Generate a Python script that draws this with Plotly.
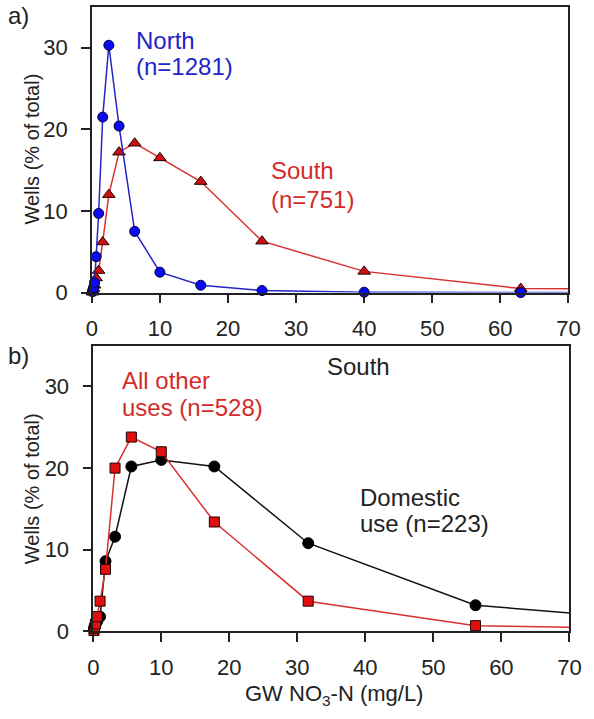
import plotly.graph_objects as go

# Panel a: NO3-N bins (mg/L) and % of wells
a_x = [0.1, 0.16, 0.25, 0.4, 0.63, 1.0, 1.6, 2.5, 4.0, 6.3, 10, 16, 25, 40, 63, 100]
north_pct = [0.1, 0.3, 0.6, 1.2, 4.4, 9.7, 21.5, 30.3, 20.4, 7.5, 2.5, 0.9, 0.25, 0.05, 0.0, 0.0]
south_pct = [0.05, 0.2, 0.5, 0.9, 1.8, 2.7, 6.2, 12.0, 17.2, 18.3, 16.5, 13.6, 6.3, 2.6, 0.5, 0.3]

# Panel b: South, by well use
b_x = [0.1, 0.18, 0.32, 0.56, 1.0, 1.8, 3.2, 5.6, 10, 17.8, 31.6, 56.2, 100]
domestic_pct = [0.2, 0.5, 0.8, 1.2, 1.8, 8.6, 11.6, 20.2, 21.0, 20.2, 10.8, 3.2, 0.2]
other_pct = [0.1, 0.4, 0.9, 1.8, 3.7, 7.6, 20.0, 23.8, 22.0, 13.4, 3.7, 0.7, 0.12]

x_ticks = [0, 10, 20, 30, 40, 50, 60, 70]
y_ticks = [0, 10, 20, 30]

W, H = 594, 719
FONT = "Liberation Sans, Arial, sans-serif"
BLUE_TXT = "#2323cc"
RED_TXT = "#d42b2b"


def sizes(xs, s):
    return [s if x <= 70 else 0 for x in xs]


fig = go.Figure()

fig.add_trace(go.Scatter(
    x=a_x, y=south_pct, mode="lines+markers", xaxis="x", yaxis="y",
    line=dict(color="#d93030", width=1.5),
    marker=dict(symbol="triangle-up", size=sizes(a_x, 11), color="#cc1010", opacity=1,
                line=dict(color="#200000", width=1)),
    cliponaxis=False, showlegend=False))
fig.add_trace(go.Scatter(
    x=a_x, y=north_pct, mode="lines+markers", xaxis="x", yaxis="y",
    line=dict(color="#2424c8", width=1.5),
    marker=dict(symbol="circle", size=sizes(a_x, 10), color="#0a0af5", opacity=1,
                line=dict(color="#000030", width=1)),
    cliponaxis=False, showlegend=False))

fig.add_trace(go.Scatter(
    x=b_x, y=domestic_pct, mode="lines+markers", xaxis="x2", yaxis="y2",
    line=dict(color="#111111", width=1.5),
    marker=dict(symbol="circle", size=sizes(b_x, 11), color="#000000", opacity=1,
                line=dict(color="#000000", width=1)),
    cliponaxis=False, showlegend=False))
fig.add_trace(go.Scatter(
    x=b_x, y=other_pct, mode="lines+markers", xaxis="x2", yaxis="y2",
    line=dict(color="#d93030", width=1.5),
    marker=dict(symbol="square", size=sizes(b_x, 10), color="#e01010", opacity=1,
                line=dict(color="#200000", width=1)),
    cliponaxis=False, showlegend=False))

tickfont = dict(family=FONT, size=22, color="#222222")
ax_common = dict(showline=True, linecolor="#222222", linewidth=1.5, mirror=True,
                 ticks="outside", ticklen=9, tickwidth=1.5, tickcolor="#222222",
                 showgrid=False, zeroline=False, tickfont=tickfont)

fig.update_layout(
    width=W, height=H, margin=dict(l=0, r=0, t=0, b=0),
    paper_bgcolor="white", plot_bgcolor="white",
    xaxis=dict(domain=[88.5 / W, 580 / W], range=[0, 70], tickvals=x_ticks,
               anchor="y", ticklabelstandoff=6, **ax_common),
    yaxis=dict(domain=[1 - 298 / H, 1 - 7 / H], range=[0, 35], tickvals=y_ticks,
               anchor="x", ticklabelstandoff=9, **ax_common),
    xaxis2=dict(domain=[90 / W, 581 / W], range=[0, 70], tickvals=x_ticks,
                anchor="y2", ticklabelstandoff=6, **ax_common),
    yaxis2=dict(domain=[1 - 643 / H, 1 - 352 / H], range=[0, 35], tickvals=y_ticks,
                anchor="x2", ticklabelstandoff=9, **ax_common),
)


def txt(px, py, text, color="#222222", size=24, xanchor="left", angle=0, yanchor="middle"):
    fig.add_annotation(x=px / W, y=1 - py / H, xref="paper", yref="paper",
                       text=text, showarrow=False, xanchor=xanchor, yanchor=yanchor,
                       textangle=angle, align="left",
                       font=dict(family=FONT, size=size, color=color))


txt(0, 16, "a)", size=24)
txt(0, 362, "b)", size=24)
txt(27, 152, "Wells (% of total)", size=20, xanchor="center", angle=-90)
txt(27, 498, "Wells (% of total)", size=20, xanchor="center", angle=-90)
txt(338, 691, "GW NO<sub>3</sub>-N (mg/L)", size=22, xanchor="center", yanchor="top")

txt(132, 41, "North", color=BLUE_TXT)
txt(132, 68, "(n=1281)", color=BLUE_TXT)
txt(271, 174, "South", color=RED_TXT)
txt(271, 203, "(n=751)", color=RED_TXT)

txt(329, 373, "South")
txt(118, 387, "All other", color=RED_TXT)
txt(118, 415, "uses (n=528)", color=RED_TXT)
txt(363, 507, "Domestic")
txt(363, 533, "use (n=223)")

fig.write_html("out.html")
